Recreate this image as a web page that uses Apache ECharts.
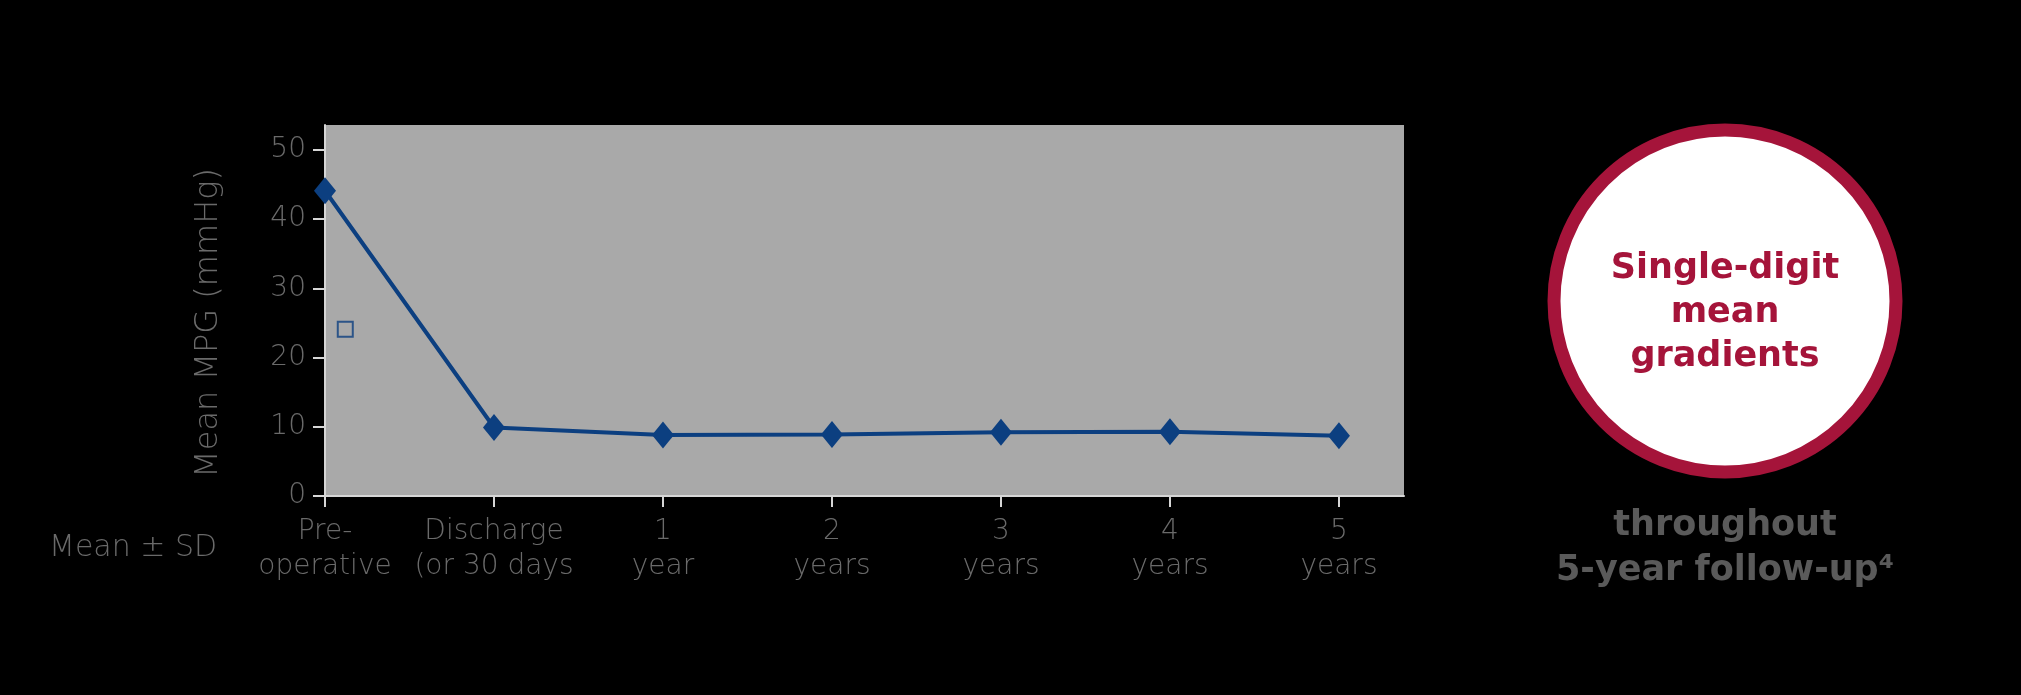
<!DOCTYPE html>
<html><head><meta charset="utf-8">
<script src="https://cdn.jsdelivr.net/npm/echarts@6/dist/echarts.min.js"></script>
<style>html,body{margin:0;padding:0;background:#000;} #c{width:2021px;height:695px;}</style>
</head><body><div id="c"></div>
<script>
const categories = ['Pre-\noperative', 'Discharge\n(or 30 days', '1\nyear', '2\nyears', '3\nyears', '4\nyears', '5\nyears'];
const meanMPG = [44.1, 9.9, 8.8, 8.9, 9.2, 9.3, 8.7];
const yTicks = [0, 10, 20, 30, 40, 50];
const markerPoint = [0.12, 24.1];

const chart = echarts.init(document.getElementById('c'), null, {renderer: 'canvas'});
const lightFont = '"DejaVu Sans ExtraLight", "DejaVu Sans", sans-serif';
const boldFont = '"DejaVu Sans", "Noto Sans", sans-serif';
const axisCol = '#d6d6d6';
const txtCol = '#6a6a6a';

chart.setOption({
  backgroundColor: '#000',
  animation: false,
  grid: {left: 325, top: 125, width: 1079, height: 371, show: true, backgroundColor: '#a9a9a9', borderWidth: 0},
  xAxis: {
    type: 'value', min: 0, max: 6.385, interval: 1,
    splitLine: {show: false},
    axisLine: {show: true, lineStyle: {color: axisCol, width: 2}},
    axisTick: {show: true, length: 11, lineStyle: {color: axisCol, width: 2}, customValues: categories.map((c, i) => i)},
    axisLabel: {
      customValues: categories.map((c, i) => i),
      formatter: v => categories[Math.round(v)] || '',
      color: txtCol, fontFamily: lightFont, fontWeight: 200, fontSize: 28, lineHeight: 35, margin: 18
    }
  },
  yAxis: {
    type: 'value', min: 0, max: 53.6,
    splitLine: {show: false},
    axisLine: {show: true, lineStyle: {color: axisCol, width: 2}},
    axisTick: {show: true, length: 12, lineStyle: {color: axisCol, width: 2}, customValues: yTicks},
    axisLabel: {customValues: yTicks, color: txtCol, fontFamily: lightFont, fontWeight: 200, fontSize: 28, margin: 19}
  },
  series: [
    {
      type: 'line',
      data: meanMPG.map((v, i) => [i, v]),
      symbol: 'diamond', symbolSize: [22, 27],
      itemStyle: {color: '#0c3f80'},
      lineStyle: {color: '#0c3f80', width: 4},
      z: 5
    },
    {
      type: 'scatter',
      data: [markerPoint],
      symbol: 'rect', symbolSize: 15,
      itemStyle: {color: 'rgba(0,0,0,0)', borderColor: '#0c3f80', borderWidth: 2}
    }
  ],
  graphic: [
    {type: 'text', x: 209, y: 323, rotation: Math.PI / 2, style: {text: 'Mean MPG (mmHg)', fill: txtCol, font: '200 32px ' + lightFont, align: 'center', verticalAlign: 'middle'}},
    {type: 'text', left: 49, top: 533, style: {text: 'Mean ± SD', fill: txtCol, font: '200 30px ' + lightFont}},
    {type: 'circle', shape: {cx: 1725, cy: 301, r: 171}, style: {fill: '#fff', stroke: '#a5143a', lineWidth: 13}},
    {type: 'text', x: 1725, y: 313, style: {text: 'Single-digit\nmean\ngradients', fill: '#a5143a', font: 'bold 35px ' + boldFont, lineHeight: 44, align: 'center', verticalAlign: 'middle'}},
    {type: 'text', x: 1725, y: 548, style: {text: 'throughout\n5-year follow-up⁴', fill: '#5a5a5a', font: 'bold 35px ' + boldFont, lineHeight: 45, align: 'center', verticalAlign: 'middle'}}
  ]
});
</script></body></html>
